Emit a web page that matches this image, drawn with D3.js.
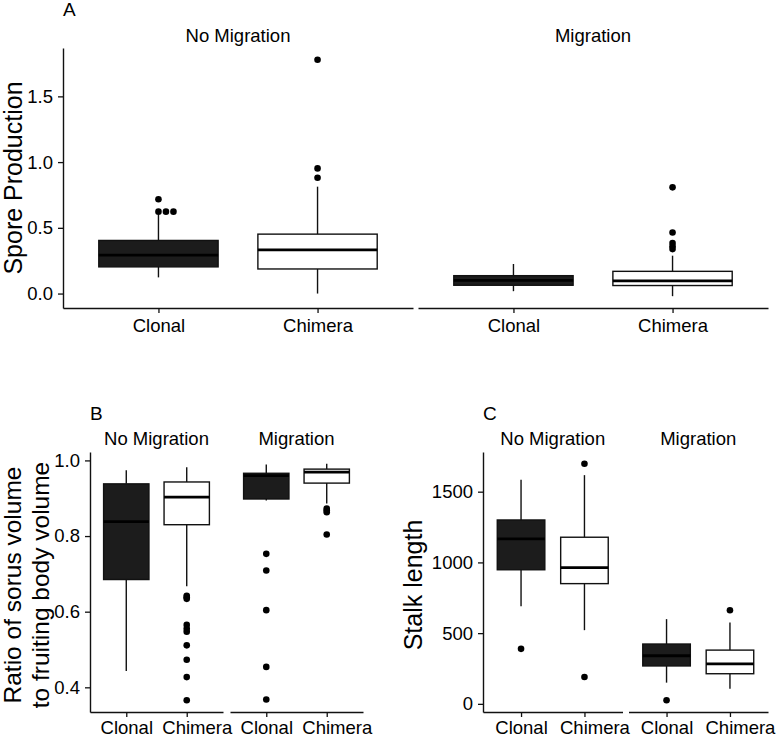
<!DOCTYPE html>
<html>
<head>
<meta charset="utf-8">
<script src="https://cdn.jsdelivr.net/npm/d3@7"></script>
<style>
  html, body { margin: 0; padding: 0; background: #fff; }
  svg { display: block; font-family: "Liberation Sans", Arial, Helvetica, sans-serif; }
</style>
</head>
<body>
<script>
// ---------------- DATA ----------------
const categories = ["Clonal", "Chimera"];
const facets = ["No Migration", "Migration"];
const groupFill = { "Clonal": "#1c1c1c", "Chimera": "#ffffff" };

// Box stats: [facet, group, lowerWhisker, Q1, median, Q3, upperWhisker]
// Panel A — Spore Production
const sporeBoxes = [
  ["No Migration", "Clonal", 0.123, 0.203, 0.293, 0.404, 0.60],
  ["No Migration", "Chimera", 0.0, 0.187, 0.333, 0.452, 0.813],
  ["Migration", "Clonal", 0.018, 0.063, 0.100, 0.136, 0.225],
  ["Migration", "Chimera", -0.02, 0.061, 0.096, 0.169, 0.288]
];
const sporeOutliers = [
  ["No Migration", "Clonal", [0.717, 0.623, 0.623, 0.623]],
  ["No Migration", "Chimera", [1.778, 0.952, 0.881]],
  ["Migration", "Clonal", []],
  ["Migration", "Chimera", [0.808, 0.464, 0.384, 0.36, 0.338]]
];
const sporeTicks = [0.0, 0.5, 1.0, 1.5];

// Panel B — Ratio of sorus volume to fruiting body volume
const ratioBoxes = [
  ["No Migration", "Clonal", 0.443, 0.685, 0.838, 0.938, 0.974],
  ["No Migration", "Chimera", 0.667, 0.830, 0.903, 0.943, 0.982],
  ["Migration", "Clonal", 0.894, 0.898, 0.960, 0.966, 0.989],
  ["Migration", "Chimera", 0.886, 0.940, 0.969, 0.977, 0.991]
];
const ratioOutliers = [
  ["No Migration", "Clonal", []],
  ["No Migration", "Chimera", [0.642, 0.638, 0.634, 0.565, 0.555, 0.547, 0.511, 0.473, 0.427, 0.366]],
  ["Migration", "Clonal", [0.753, 0.709, 0.604, 0.454, 0.368]],
  ["Migration", "Chimera", [0.873, 0.868, 0.863, 0.804]]
];
const ratioTicks = [0.4, 0.6, 0.8, 1.0];

// Panel C — Stalk length
const stalkBoxes = [
  ["No Migration", "Clonal", 690, 948, 1167, 1300, 1584],
  ["No Migration", "Chimera", 521, 850, 963, 1178, 1617],
  ["Migration", "Clonal", 150, 268, 340, 423, 599],
  ["Migration", "Chimera", 106, 213, 282, 380, 575]
];
const stalkOutliers = [
  ["No Migration", "Clonal", [389]],
  ["No Migration", "Chimera", [1697, 190]],
  ["Migration", "Clonal", [26]],
  ["Migration", "Chimera", [662]]
];
const stalkTicks = [0, 500, 1000, 1500];

// ---------------- DRAWING ----------------
const W = 777, H = 738;
const svg = d3.select("body").append("svg").attr("width", W).attr("height", H);
const INK = "#111";

function panel(cfg) {
  const g = svg.append("g");
  const vals = cfg.boxes.flatMap(b => [b[2], b[6]]).concat(cfg.outliers.flatMap(o => o[2]));
  const [mn, mx] = d3.extent(vals);
  const pad = (mx - mn) * 0.05;
  const y = d3.scaleLinear().domain([mn - pad, mx + pad]).range([cfg.bottom, cfg.top]);
  const x = d3.scalePoint().domain(categories).range([0, cfg.facetW]).padding(0.6);
  const fx = f => cfg.left + facets.indexOf(f) * (cfg.facetW + cfg.gap);
  const bw = x.step() * 0.75;

  // strips
  facets.forEach(f => {
    g.append("text").attr("x", fx(f) + cfg.facetW / 2).attr("y", cfg.stripY)
      .attr("text-anchor", "middle").attr("font-size", 18.5).attr("fill", "#000").text(f);
  });

  // boxes
  cfg.boxes.forEach(b => {
    const [f, c, lo, q1, med, q3, hi] = b;
    const cx = fx(f) + x(c);
    g.append("line").attr("x1", cx).attr("x2", cx).attr("y1", y(lo)).attr("y2", y(q1))
      .attr("stroke", INK).attr("stroke-width", 1.4);
    g.append("line").attr("x1", cx).attr("x2", cx).attr("y1", y(q3)).attr("y2", y(hi))
      .attr("stroke", INK).attr("stroke-width", 1.4);
    g.append("rect").attr("x", cx - bw / 2).attr("width", bw)
      .attr("y", y(q3)).attr("height", y(q1) - y(q3))
      .attr("fill", groupFill[c]).attr("stroke", INK).attr("stroke-width", 1.4);
    g.append("line").attr("x1", cx - bw / 2).attr("x2", cx + bw / 2).attr("y1", y(med)).attr("y2", y(med))
      .attr("stroke", "#000").attr("stroke-width", 2.8);
  });

  // outliers (identical values are dodged sideways)
  cfg.outliers.forEach(o => {
    const [f, c, list] = o;
    const cx = fx(f) + x(c);
    const seen = new Map();
    list.forEach(v => {
      const k = seen.get(v) || 0;
      seen.set(v, k + 1);
      g.append("circle").attr("cx", cx + k * 7.5).attr("cy", y(v)).attr("r", 3.3).attr("fill", "#000");
    });
  });

  // y axis
  g.append("g").attr("transform", `translate(${cfg.left},0)`)
    .call(d3.axisLeft(y).tickValues(cfg.ticks).tickFormat(cfg.fmt).tickSize(5).tickPadding(5).tickSizeOuter(0));
  // x axes
  facets.forEach(f => {
    const ax = g.append("g").attr("transform", `translate(${fx(f)},${cfg.bottom})`)
      .call(d3.axisBottom(x).tickSize(5).tickPadding(cfg.xPad).tickSizeOuter(0));
    ax.selectAll(".tick text").attr("dx", d => d === "Chimera" ? cfg.chimeraDx : 0);
  });
  g.selectAll(".domain").attr("stroke", INK).attr("stroke-width", 1.4);
  g.selectAll(".tick line").attr("stroke", INK).attr("stroke-width", 1.3);
  g.selectAll(".tick text").attr("font-size", 18.5).attr("fill", "#000")
    .attr("font-family", "Liberation Sans, Arial, sans-serif");

  // panel letter
  g.append("text").attr("x", cfg.left).attr("y", cfg.letterY).attr("font-size", 19)
    .attr("fill", "#000").text(cfg.letter);

  // y title
  const t = g.append("text").attr("transform", `translate(${cfg.titleX},${cfg.titleY}) rotate(-90)`)
    .attr("text-anchor", "middle").attr("font-size", cfg.titleSize).attr("fill", "#000");
  cfg.title.forEach((line, i) => {
    t.append("tspan").attr("x", 0).attr("y", i * cfg.titleLead).text(line);
  });
}

panel({
  boxes: sporeBoxes, outliers: sporeOutliers, ticks: sporeTicks, fmt: d3.format(".1f"),
  left: 63, facetW: 350, gap: 5, top: 48, bottom: 308, stripY: 42, xPad: 5.9, chimeraDx: 0,
  letter: "A", letterY: 16,
  title: ["Spore Production"], titleX: 22, titleY: 178, titleSize: 25, titleLead: 0
});
panel({
  boxes: ratioBoxes, outliers: ratioOutliers, ticks: ratioTicks, fmt: d3.format(".1f"),
  left: 90, facetW: 133, gap: 7, top: 452, bottom: 712, stripY: 445, xPad: 3.6, chimeraDx: 10,
  letter: "B", letterY: 420,
  title: ["Ratio of sorus volume", "to fruiting body volume"], titleX: 21, titleY: 585, titleSize: 24.5, titleLead: 28
});
panel({
  boxes: stalkBoxes, outliers: stalkOutliers, ticks: stalkTicks, fmt: d3.format("d"),
  left: 483, facetW: 139.5, gap: 6, top: 452, bottom: 712, stripY: 445, xPad: 3.6, chimeraDx: 10,
  letter: "C", letterY: 420,
  title: ["Stalk length"], titleX: 422, titleY: 585, titleSize: 25, titleLead: 0
});
</script>
</body>
</html>
